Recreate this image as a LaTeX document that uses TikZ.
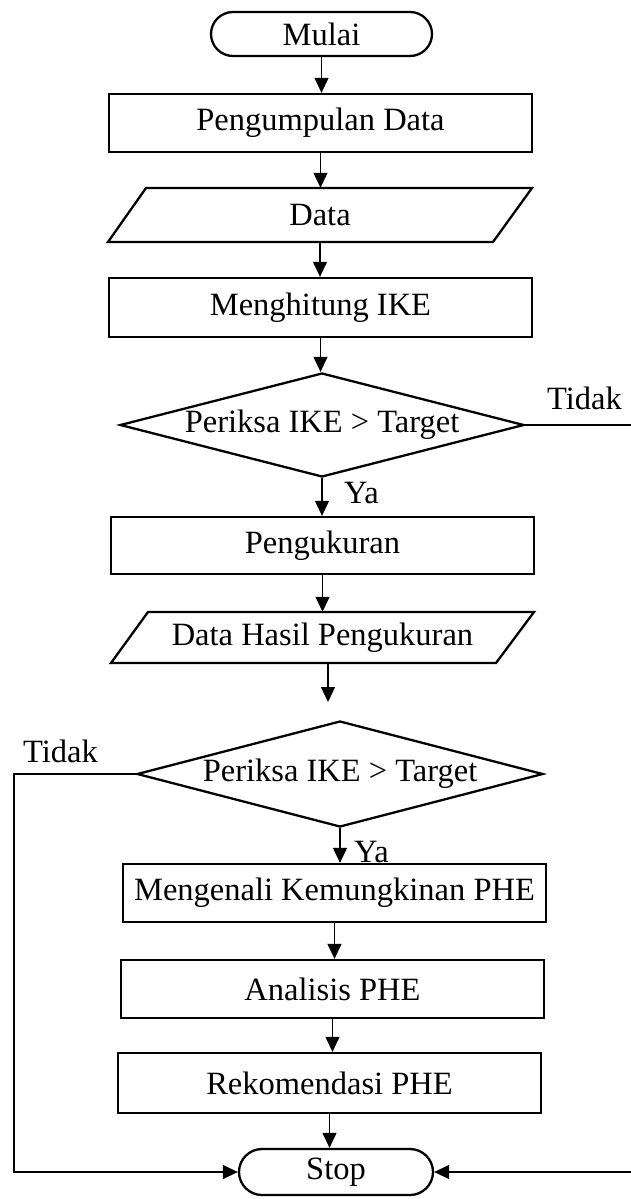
\documentclass[tikz,border=0pt]{standalone}
\usepackage{fontspec}
\setmainfont{Liberation Serif}
\usetikzlibrary{shapes.geometric,arrows.meta,calc}
\begin{document}
\begin{tikzpicture}[x=1pt,y=-1pt,
  every node/.style={font=\fontsize{32.5}{37}\selectfont, inner sep=0pt},
  proc/.style={draw, line width=2.3pt, minimum width=423pt, minimum height=58pt},
  term/.style={draw, line width=2.3pt, rounded corners=22pt, minimum width=221pt, minimum height=44pt},
  dec/.style={draw, shape=diamond, line width=2.3pt, aspect=3.9},
  iobox/.style={minimum width=424pt, minimum height=54pt},
  para/.style={draw, line width=2.3pt, line join=miter},
  arr/.style={line width=1.2pt, -{Triangle[width=14pt,length=15pt]}},
  conn/.style={line width=1.2pt},
  lbl/.style={anchor=base west}
]
\useasboundingbox (0,0) rectangle (631,1199);

\node[term] (mulai) at (321.5,34) {Mulai};
\node[proc] (kump) at (320.5,123) {Pengumpulan Data};
\node[iobox] (data) at (320,215) {Data};
\draw[para] ($(data.center)+(-212,27)$) -- ($(data.center)+(173,27)$) -- ($(data.center)+(212,-27)$) -- ($(data.center)+(-174,-27)$) -- cycle;
\node[proc, minimum height=59pt] (hitung) at (320.5,307.5) {Menghitung IKE};
\node[dec, minimum width=404pt, minimum height=104pt] (d1) at (322,425) {Periksa IKE > Target};
\node[proc, minimum height=57pt] (ukur) at (322.5,545.5) {Pengukuran};
\node[iobox, minimum height=51pt] (dhp) at (322.5,637.5) {Data Hasil Pengukuran};
\draw[para] ($(dhp.center)+(-211.5,25.5)$) -- ($(dhp.center)+(173.5,25.5)$) -- ($(dhp.center)+(211.5,-25.5)$) -- ($(dhp.center)+(-174.5,-25.5)$) -- cycle;
\coordinate (gap) at (328,702);
\node[dec, minimum width=406pt, minimum height=106pt] (d2) at (340,774) {Periksa IKE > Target};
\node[proc] (kenal) at (334.5,893) {Mengenali Kemungkinan PHE};
\node[proc] (anal) at (332.5,989) {Analisis PHE};
\node[proc, minimum height=60pt] (rek) at (329.5,1083) {Rekomendasi PHE};
\node[term, minimum width=194pt, minimum height=46pt, rounded corners=23pt] (stop) at (336,1172) {Stop};

\coordinate (rx) at (631,0);
\coordinate (lx) at (14,0);

\draw[arr] (mulai.south) -- (mulai.south |- kump.north);
\draw[arr] (kump.south) -- (kump.south |- data.north);
\draw[arr] (data.south) -- (data.south |- hitung.north);
\draw[arr] (hitung.south) -- (hitung.south |- d1.north);
\draw[arr] (d1.south) -- (d1.south |- ukur.north);
\draw[arr] (ukur.south) -- (ukur.south |- dhp.north);
\draw[arr] (gap |- dhp.south) -- (gap);
\draw[arr] (d2.south) -- (d2.south |- kenal.north);
\draw[arr] (kenal.south) -- (kenal.south |- anal.north);
\draw[arr] (anal.south) -- (anal.south |- rek.north);
\draw[arr] (rek.south) -- (rek.south |- stop.north);
\draw[conn] (d1.east) -- (d1.east -| rx);
\draw[arr] (d2.west) -- (d2.west -| lx) |- (stop.west);
\draw[arr] (stop.east -| rx) -- (stop.east);

\node[lbl] (t1) at (547,409) {Tidak};
\node[lbl] (y1) at (344,503) {Ya};
\node[lbl] (t2) at (23,762) {Tidak};
\node[lbl] (y2) at (354,862) {Ya};
\end{tikzpicture}
\end{document}
